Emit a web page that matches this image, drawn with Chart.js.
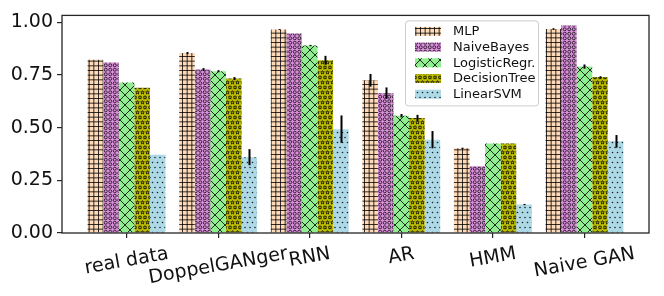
<!DOCTYPE html>
<html>
<head>
<meta charset="utf-8">
<script src="https://cdn.jsdelivr.net/npm/chart.js@4/dist/chart.umd.min.js"></script>
<style>
  body { margin: 0; background: #fff; }
  #wrap { width: 664px; height: 296px; }
</style>
</head>
<body>
<div id="wrap"><canvas id="mychartCanvas" width="664" height="296"></canvas></div>
<script>
var categories = ["real data", "DoppelGANger", "RNN", "AR", "HMM", "Naive GAN"];
var seriesNames = ["MLP", "NaiveBayes", "LogisticRegr.", "DecisionTree", "LinearSVM"];

var mlp    = [0.822, 0.854, 0.966, 0.725, 0.402, 0.968];
var mlpErr = [0, 0.005, 0.002, 0.030, 0.003, 0.004];
var nb     = [0.809, 0.776, 0.947, 0.664, 0.317, 0.985];
var nbErr  = [0, 0.007, 0, 0.027, 0, 0];
var lr     = [0.714, 0.768, 0.890, 0.557, 0.425, 0.790];
var lrErr  = [0, 0.005, 0.003, 0.008, 0, 0.010];
var dt     = [0.689, 0.733, 0.820, 0.546, 0.425, 0.740];
var dtErr  = [0, 0.007, 0.021, 0.015, 0, 0.004];
var svm    = [0.372, 0.360, 0.493, 0.443, 0.135, 0.435];
var svmErr = [0, 0.038, 0.065, 0.041, 0.003, 0.030];

var yTicks = [0, 0.25, 0.5, 0.75, 1.0];

var FONT = "'DejaVu Sans', sans-serif";

// hatch patterns, matplotlib style
function makePattern(size, bg, draw) {
  var c = document.createElement("canvas");
  c.width = size; c.height = size;
  var g = c.getContext("2d");
  g.fillStyle = bg;
  g.fillRect(0, 0, size, size);
  g.strokeStyle = "rgba(0,0,0,0.8)";
  g.fillStyle = "rgba(0,0,0,0.85)";
  g.lineWidth = 1;
  draw(g, size);
  return g.createPattern(c, "repeat");
}

function star(g, cx, cy, r) {
  g.beginPath();
  for (var k = 0; k < 10; k++) {
    var rr = k % 2 == 0 ? r : r * 0.45;
    var a = -Math.PI / 2 + k * Math.PI / 5;
    var px = cx + rr * Math.cos(a), py = cy + rr * Math.sin(a);
    if (k == 0) g.moveTo(px, py); else g.lineTo(px, py);
  }
  g.closePath();
  g.stroke();
}

var patterns = [
  makePattern(14, "#ffdab9", function (g, s) {
    for (var k = 0; k < 3; k++) {
      var p = 0.5 + k * s / 3;
      g.beginPath(); g.moveTo(p, 0); g.lineTo(p, s); g.stroke();
      g.beginPath(); g.moveTo(0, p); g.lineTo(s, p); g.stroke();
    }
  }),
  makePattern(9, "#d98fd9", function (g, s) {
    g.lineWidth = 0.9;
    [[2.25, 2.25], [6.75, 2.25], [2.25, 6.75], [6.75, 6.75]].forEach(function (p) {
      g.beginPath(); g.arc(p[0], p[1], 1.5, 0, Math.PI * 2); g.stroke();
    });
  }),
  makePattern(10, "#90ee90", function (g, s) {
    g.beginPath(); g.moveTo(0, 0); g.lineTo(s, s); g.stroke();
    g.beginPath(); g.moveTo(s, 0); g.lineTo(0, s); g.stroke();
  }),
  makePattern(10, "#bfbf00", function (g, s) {
    g.lineWidth = 0.9;
    [[2.5, 2.5], [7.5, 2.5], [0, 7.5], [5, 7.5], [10, 7.5]].forEach(function (p) {
      star(g, p[0], p[1], 1.9);
    });
  }),
  makePattern(10, "#add8e6", function (g, s) {
    [[2.5, 2.5], [7.5, 2.5], [5, 7.5], [0, 7.5], [10, 7.5]].forEach(function (p) {
      g.beginPath(); g.arc(p[0], p[1], 0.8, 0, Math.PI * 2); g.fill();
    });
  })
];

var values = [mlp, nb, lr, dt, svm];
var errors = [mlpErr, nbErr, lrErr, dtErr, svmErr];

var datasets = [];
for (var i = 0; i < values.length; i++) {
  datasets.push({
    label: seriesNames[i],
    data: values[i].map(function (v, j) { return { x: j, y: v }; }),
    errors: errors[i],
    backgroundColor: patterns[i],
    borderWidth: 0,
    categoryPercentage: 0.85,
    barPercentage: 1.0
  });
}

// error bars, frame, rotated x labels and legend
var extras = {
  id: "extras",
  afterDatasetsDraw: function (chart) {
    var ctx = chart.ctx, ys = chart.scales.y;
    ctx.save();
    ctx.strokeStyle = "#000";
    ctx.lineWidth = 2;
    chart.data.datasets.forEach(function (ds, di) {
      var meta = chart.getDatasetMeta(di);
      meta.data.forEach(function (bar, j) {
        var e = ds.errors[j];
        if (!e) return;
        var v = ds.data[j].y;
        ctx.beginPath();
        ctx.moveTo(Math.round(bar.x) + 0.5, ys.getPixelForValue(v - e));
        ctx.lineTo(Math.round(bar.x) + 0.5, ys.getPixelForValue(v + e));
        ctx.stroke();
      });
    });
    ctx.restore();
  },
  afterDraw: function (chart) {
    var ctx = chart.ctx, ca = chart.chartArea, xs = chart.scales.x;
    ctx.save();
    // frame
    ctx.strokeStyle = "#262626";
    ctx.lineWidth = 1.3;
    ctx.strokeRect(ca.left, ca.top, ca.right - ca.left, ca.bottom - ca.top);

    // x labels, rotated 10 deg, centered at the tick
    ctx.font = "19px " + FONT;
    ctx.fillStyle = "#111";
    ctx.textAlign = "center";
    ctx.textBaseline = "middle";
    var rot = 10 * Math.PI / 180;
    categories.forEach(function (lab, j) {
      var w = ctx.measureText(lab).width;
      var h = 22;
      var H = w * Math.sin(rot) + h * Math.cos(rot);
      var x = xs.getPixelForValue(j);
      var y = ca.bottom + 10 + H / 2;
      ctx.save();
      ctx.translate(x, y);
      ctx.rotate(-rot);
      ctx.fillText(lab, 0, 0);
      ctx.restore();
    });

    // legend
    var bx = ca.left + 343, by = ca.top + 5, bw = 133, bh = 85;
    ctx.fillStyle = "rgba(255,255,255,0.85)";
    ctx.strokeStyle = "#cccccc";
    ctx.lineWidth = 1;
    ctx.beginPath();
    ctx.roundRect(bx + 0.5, by + 0.5, bw, bh, 3);
    ctx.fill();
    ctx.stroke();
    ctx.font = "13px " + FONT;
    ctx.textAlign = "left";
    ctx.textBaseline = "middle";
    chart.data.datasets.forEach(function (ds, di) {
      var cy = by + 11 + di * 15.7;
      ctx.fillStyle = ds.backgroundColor;
      ctx.fillRect(bx + 10, cy - 4.5, 26, 9);
      ctx.fillStyle = "#111";
      ctx.fillText(ds.label, bx + 48, cy + 0.5);
    });
    ctx.restore();
  }
};

var ctx = document.getElementById("mychartCanvas");

var chart = new Chart(ctx, {
  type: "bar",
  data: { datasets: datasets },
  options: {
    responsive: false,
    animation: false,
    layout: { padding: { top: 14, right: 15, left: 0, bottom: 0 } },
    plugins: { legend: { display: false }, tooltip: { enabled: false } },
    scales: {
      x: {
        type: "linear",
        min: -0.705,
        max: 5.705,
        offset: false,
        afterBuildTicks: function (s) {
          s.ticks = categories.map(function (c, j) { return { value: j }; });
        },
        afterFit: function (s) { s.height = 63; },
        grid: { offset: false, drawOnChartArea: false, tickLength: 5, color: "#262626", lineWidth: 1.2 },
        border: { display: false },
        ticks: { display: false }
      },
      y: {
        min: 0,
        max: 1.033,
        afterBuildTicks: function (s) {
          s.ticks = yTicks.map(function (v) { return { value: v }; });
        },
        afterFit: function (s) { s.width = 62; },
        grid: { drawOnChartArea: false, tickLength: 5, color: "#262626", lineWidth: 1.2 },
        border: { display: false },
        ticks: {
          padding: 4,
          color: "#111",
          font: { family: FONT, size: 19 },
          callback: function (v) { return v.toFixed(2); }
        }
      }
    }
  },
  plugins: [extras]
});
</script>
</body>
</html>
